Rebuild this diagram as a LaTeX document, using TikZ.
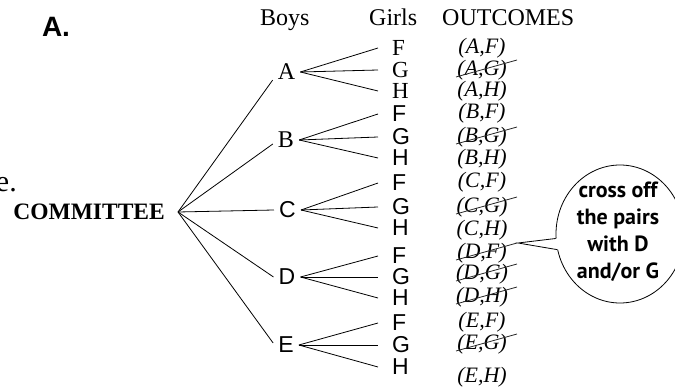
\documentclass[tikz,border=0pt]{standalone}
\usepackage{fontspec}
\setmainfont{Liberation Serif}
\setsansfont{Liberation Sans}
\newfontfamily\handfont{PT Sans}
\usetikzlibrary{shapes.geometric}
\begin{document}
\begin{tikzpicture}[x=1pt,y=-1pt,
  every node/.style={inner sep=0pt},
  hdr/.style={font=\fontsize{24}{24}\selectfont, anchor=base west},
  boyser/.style={font=\fontsize{24}{24}\selectfont, inner xsep=5pt},
  boysan/.style={font=\sffamily\fontsize{23}{23}\selectfont, inner xsep=5pt},
  girlser/.style={font=\fontsize{23}{23}\selectfont, anchor=west, inner xsep=14pt},
  girlsan/.style={font=\sffamily\fontsize{23}{23}\selectfont, anchor=west, inner xsep=14pt},
  outc/.style={font=\itshape\fontsize{22}{22}\selectfont},
  branch/.style={line width=0.8pt},
  strike/.style={line width=0.8pt, black!85},
]
\useasboundingbox (0,0) rectangle (675,390);

% title and fragment
\node[font=\sffamily\bfseries\fontsize{28}{28}\selectfont] (title) at (56,27) {A.};
\node[font=\fontsize{30}{30}\selectfont, anchor=base east] (frag) at (17,192) {e.};

% headers
\node[hdr] (hboys) at (260,26) {Boys};
\node[hdr] (hgirls) at (369,26) {Girls};
\node[hdr] (hout) at (442,26) {OUTCOMES};

% root
\node[font=\bfseries\fontsize{23.5}{23.5}\selectfont, anchor=east, inner xsep=13pt] (com) at (178,212) {COMMITTEE};

% boys
\node[boyser] (A) at (286.5,72) {A};
\node[boyser] (B) at (286,140) {B};
\node[boysan] (C) at (287.5,210) {C};
\node[boysan] (D) at (287,277) {D};
\node[boysan] (E) at (286,345) {E};

% girls
\node[girlser] (gAF) at (378,48) {F};
\node[girlser] (gAG) at (378,70) {G};
\node[girlser] (gAH) at (378,91) {H};
\node[girlsan] (gBF) at (378,114) {F};
\node[girlsan] (gBG) at (378,137) {G};
\node[girlsan] (gBH) at (378,158) {H};
\node[girlsan] (gCF) at (378,183) {F};
\node[girlsan] (gCG) at (378,207) {G};
\node[girlsan] (gCH) at (378,228) {H};
\node[girlsan] (gDF) at (378,256) {F};
\node[girlsan] (gDG) at (378,277) {G};
\node[girlsan] (gDH) at (378,298) {H};
\node[girlsan] (gEF) at (378,323) {F};
\node[girlsan] (gEG) at (378,345) {G};
\node[girlsan] (gEH) at (378,367) {H};

% outcomes
\node[outc] (oAF) at (482,48) {(A,F)};
\node[outc] (oAG) at (482,70) {(A,G)};
\node[outc] (oAH) at (482,91) {(A,H)};
\node[outc] (oBF) at (482,113) {(B,F)};
\node[outc] (oBG) at (482,137) {(B,G)};
\node[outc] (oBH) at (482,159) {(B,H)};
\node[outc] (oCF) at (482,182) {(C,F)};
\node[outc] (oCG) at (482,207) {(C,G)};
\node[outc] (oCH) at (482,230) {(C,H)};
\node[outc] (oDF) at (482,253) {(D,F)};
\node[outc] (oDG) at (482,274) {(D,G)};
\node[outc] (oDH) at (482,297) {(D,H)};
\node[outc] (oEF) at (482,322) {(E,F)};
\node[outc] (oEG) at (482,344) {(E,G)};
\node[outc] (oEH) at (482,377) {(E,H)};

% strike-outs
\foreach \n in {oAG,oBG,oCG,oDF,oDG,oDH,oEG}
  \draw[strike] ([xshift=-26pt,yshift=-7pt]\n.center) -- ([xshift=35pt,yshift=10pt]\n.center);

% committee branches
\draw[branch] (com.east) -- (A.south west);
\draw[branch] (com.east) -- ([yshift=-4pt]B.west);
\draw[branch] (com.east) -- (C.west);
\draw[branch] (com.east) -- (D.west);
\draw[branch] (com.east) -- ([yshift=2pt]E.west);

% boy branches
\foreach \b in {A,B,C,D,E}
  \foreach \g in {F,G,H}
    \draw[branch] (\b.east) -- (g\b\g.west);

% speech bubble
\node[ellipse, draw, line width=0.8pt, minimum width=128pt, minimum height=138pt] (bubble) at (620,234) {};
\node[font=\handfont\bfseries\fontsize{22}{27}\selectfont, align=center] (note) at (618,232) {cross off\\the pairs\\with D\\and/or G};
\coordinate (tip) at (518,243);
\fill[white] (tip) -- (bubble.184) -- ([xshift=4pt]bubble.184) -- ([xshift=4pt]bubble.194) -- (bubble.194) -- cycle;
\draw[line width=0.8pt] (bubble.184) -- (tip) -- (bubble.194);
\end{tikzpicture}
\end{document}
